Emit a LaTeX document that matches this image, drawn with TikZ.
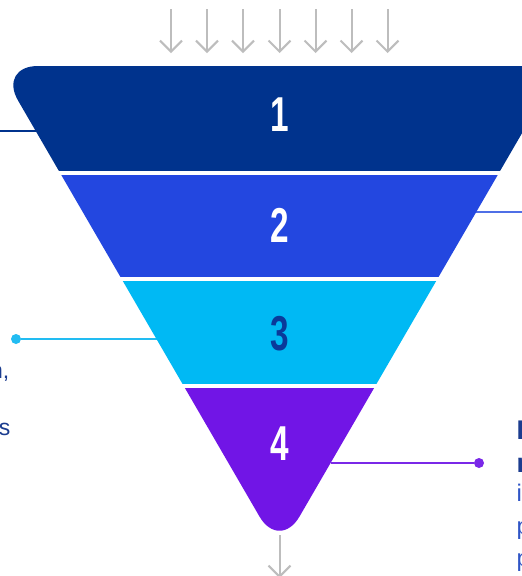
\documentclass[tikz,border=0pt]{standalone}
\usepackage{fontspec}
\setmainfont{Liberation Sans}
\usetikzlibrary{arrows.meta}
\definecolor{bandA}{HTML}{00338D}
\definecolor{bandB}{HTML}{2347E0}
\definecolor{bandC}{HTML}{00B9F4}
\definecolor{bandD}{HTML}{7115E6}
\definecolor{numdark}{HTML}{0A3A9A}
\definecolor{arrowgray}{HTML}{BDBDBD}
\definecolor{textdark}{HTML}{1B3C8F}
\definecolor{textblue}{HTML}{2F55C6}
\definecolor{lineB}{HTML}{4F6FE6}
\definecolor{lineC}{HTML}{22BCF2}
\definecolor{lineD}{HTML}{7A28E8}
\newcommand{\funnelnum}[1]{\scalebox{0.68}[1]{\fontsize{49}{49}\selectfont\bfseries #1}}
\begin{document}
\begin{tikzpicture}[x=1pt,y=-1pt,
  numlabel/.style={inner sep=0pt, anchor=center},
  grayarrow/.style={draw=arrowgray, line width=2pt, -{Straight Barb[length=11pt,width=22pt]}},
  leaderline/.style={line width=1.6pt},
  leaderdot/.style={circle, inner sep=0pt, minimum size=10pt},
  lefttext/.style={inner sep=0pt, anchor=base east, text=textdark, font=\fontsize{23}{28}\selectfont},
  headtext/.style={inner sep=0pt, anchor=base west, text=textdark, font=\fontsize{27}{33}\selectfont\bfseries},
  bodytext/.style={inner sep=0pt, anchor=base west, text=textblue, font=\fontsize{24}{33}\selectfont}
]
\useasboundingbox (0,0) rectangle (522,576);
\clip (0,0) rectangle (522,576);
\fill[white] (0,0) rectangle (522,576);

% edge coordinates for leader lines
\coordinate (e1) at (36,131);
\coordinate (s1) at (-5,131);
\coordinate (e2) at (476,212);
\coordinate (s2) at (530,212);
\coordinate (e3) at (156.5,339);
\coordinate (e4) at (330.5,463);

% leader lines
\draw[leaderline, draw=bandA] (s1) -- (e1);
\draw[leaderline, draw=lineB] (e2) -- (s2);
\node[leaderdot, fill=lineC] (d3) at (16,339) {};
\draw[leaderline, draw=lineC] (d3) -- (e3);
\node[leaderdot, fill=lineD] (d4) at (479,463) {};
\draw[leaderline, draw=lineD] (e4) -- (d4);

% funnel
\begin{scope}
\clip[rounded corners=40pt] (-2,66) -- (561,66) -- (279.5,551) -- cycle;
\fill[bandA] (-20,60) rectangle (600,171);
\fill[bandB] (-20,175) rectangle (600,277);
\fill[bandC] (-20,281) rectangle (600,384);
\fill[bandD] (-20,388) rectangle (600,560);
\end{scope}

% numbers
\node[numlabel, text=white] (n1) at (279.5,115) {\funnelnum{1}};
\node[numlabel, text=white] (n2) at (279.5,225) {\funnelnum{2}};
\node[numlabel, text=numdark] (n3) at (279.5,334) {\funnelnum{3}};
\node[numlabel, text=white] (n4) at (279.5,444) {\funnelnum{4}};

% top arrows
\foreach \i/\x in {1/171,2/207,3/243,4/279.5,5/315.5,6/351.5,7/387.5}{
  \coordinate (ta\i) at (\x,9);
  \coordinate (tb\i) at (\x,53);
  \draw[grayarrow] (ta\i) -- (tb\i);
}
% bottom arrow
\coordinate (ba) at (279.5,535);
\coordinate (bb) at (279.5,578);
\draw[grayarrow] (ba) -- (bb);

% cut-off text fragments
\node[lefttext] (tl1) at (9.5,378) {n,};
\node[lefttext] (tl2) at (10.5,435) {s};
\node[headtext] (tr1) at (516.5,439) {I};
\node[headtext] (tr2) at (516.5,472) {n};
\node[bodytext] (tr3) at (516.5,501) {i};
\node[bodytext] (tr4) at (516.5,534) {p};
\node[bodytext] (tr5) at (516.5,566) {p};
\end{tikzpicture}
\end{document}
